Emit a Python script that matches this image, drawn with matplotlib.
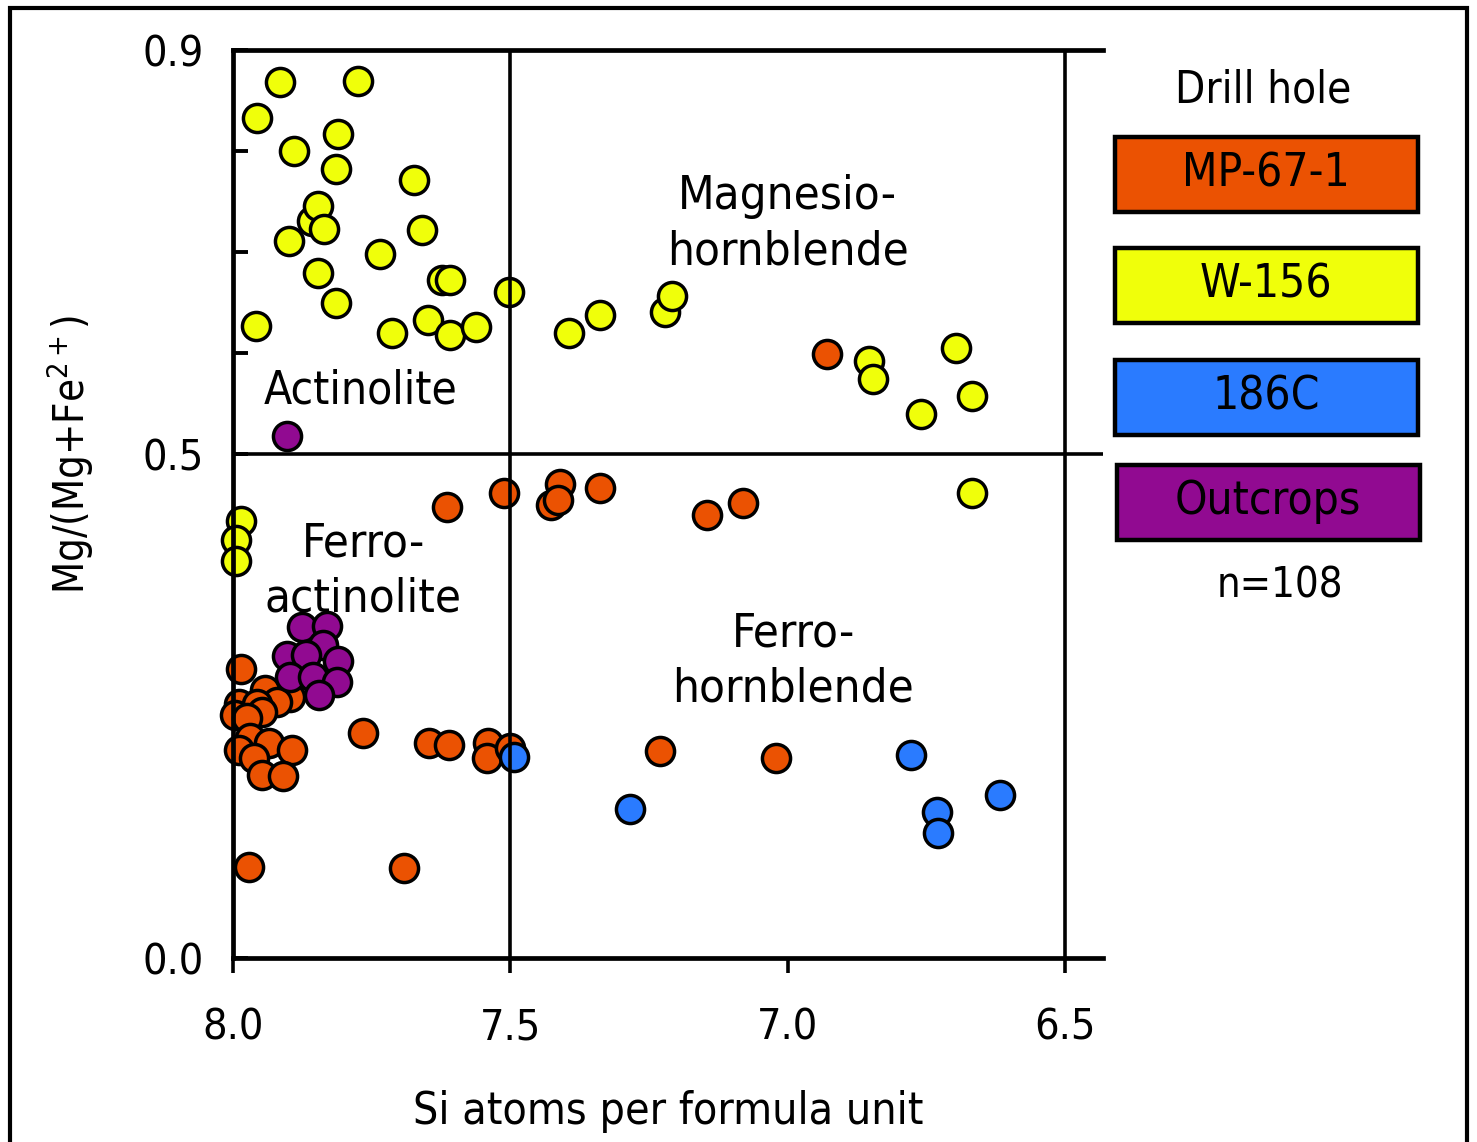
import matplotlib
matplotlib.use("Agg")
import matplotlib.pyplot as plt
from matplotlib.patches import Rectangle

plt.rcParams['font.family'] = ['Liberation Sans Narrow', 'DejaVu Sans']
plt.rcParams['font.stretch'] = 'condensed'

# -----------------------------
# Data
# -----------------------------
mp67_si = [6.930, 7.512, 7.410, 7.426, 7.415, 7.339, 7.146, 7.081, 7.614,
           7.986, 7.942, 7.897, 7.921, 7.990, 7.957, 7.948, 7.996, 7.975,
           7.969, 7.936, 7.990, 7.963, 7.894, 7.948, 7.910, 7.766, 7.646,
           7.610, 7.540, 7.543, 7.501, 7.972, 7.691, 7.231, 7.022]
mp67_mg = [0.599, 0.461, 0.470, 0.449, 0.454, 0.466, 0.439, 0.451, 0.447,
           0.286, 0.266, 0.259, 0.254, 0.252, 0.252, 0.244, 0.241, 0.238,
           0.218, 0.213, 0.206, 0.198, 0.206, 0.181, 0.180, 0.223, 0.213,
           0.211, 0.213, 0.198, 0.208, 0.090, 0.089, 0.205, 0.198]

w156_si = [7.915, 7.774, 7.957, 7.810, 7.891, 7.814, 7.673, 7.858, 7.846,
           7.836, 7.900, 7.660, 7.735, 7.846, 7.624, 7.609, 7.814, 7.502,
           7.959, 7.714, 7.648, 7.608, 7.562, 7.394, 7.339, 7.221, 7.209,
           6.853, 6.846, 6.696, 6.668, 6.759, 6.668, 7.986, 7.995, 7.995]
w156_mg = [0.868, 0.869, 0.833, 0.817, 0.800, 0.782, 0.771, 0.731, 0.745,
           0.723, 0.711, 0.722, 0.698, 0.679, 0.672, 0.672, 0.649, 0.660,
           0.626, 0.620, 0.632, 0.618, 0.625, 0.620, 0.637, 0.640, 0.656,
           0.592, 0.574, 0.605, 0.557, 0.539, 0.461, 0.433, 0.414, 0.394]

c186_si = [7.494, 7.285, 6.777, 6.731, 6.729, 6.617]
c186_mg = [0.199, 0.148, 0.201, 0.145, 0.124, 0.162]

outcrop_si = [7.903, 7.876, 7.830, 7.838, 7.903, 7.868, 7.810, 7.897,
              7.856, 7.813, 7.845]
outcrop_mg = [0.517, 0.328, 0.329, 0.310, 0.299, 0.300, 0.294, 0.279,
              0.279, 0.274, 0.261]

groups = ["MP-67-1", "W-156", "186C", "Outcrops"]
colors = ["#eb5202", "#f0ff0a", "#2a7bff", "#910a91"]

# -----------------------------
# Figure
# -----------------------------
fig = plt.figure(figsize=(14.77, 11.42), dpi=100)
ax = fig.add_axes([0.1578, 0.1611, 0.5890, 0.7951])

series = [(mp67_si, mp67_mg), (w156_si, w156_mg),
          (outcrop_si, outcrop_mg), (c186_si, c186_mg)]
series_colors = [colors[0], colors[1], colors[3], colors[2]]
for (xs, ys), c in zip(series, series_colors):
    ax.scatter(xs, ys, s=410, c=c, edgecolors="black", linewidths=2.5,
               zorder=3, clip_on=False)

# field boundaries
ax.axvline(7.5, color="black", lw=2.6, zorder=4)
ax.axvline(6.5, color="black", lw=2.6, zorder=4)
ax.axhline(0.5, color="black", lw=2.6, zorder=4)

ax.set_xlim(8.0, 6.4315)
ax.set_ylim(0.0, 0.9)

ax.spines["right"].set_visible(False)
for sp in ["left", "bottom", "top"]:
    ax.spines[sp].set_linewidth(3.4)
    ax.spines[sp].set_zorder(5)

ax.set_xticks([8.0, 7.5, 7.0, 6.5])
ax.set_xticklabels(["8.0", "7.5", "7.0", "6.5"])
ax.set_yticks([0.0, 0.5, 0.6, 0.7, 0.8, 0.9])
ax.set_yticklabels(["0.0", "0.5", "", "", "", "0.9"])
ax.tick_params(axis="x", direction="out", length=11, width=2.6,
               labelsize=31, pad=24)
ax.tick_params(axis="y", direction="in", length=11, width=2.8,
               labelsize=31, pad=21)

ax.set_xlabel("Si atoms per formula unit", fontsize=32, labelpad=30)
ax.set_ylabel("Mg/(Mg+Fe$^{2+}$)", fontsize=30)
ax.yaxis.set_label_coords(-0.158, 0.555)

# field names
ax.text(7.0, 0.727, "Magnesio-\nhornblende", fontsize=34, ha="center",
        va="center", linespacing=1.3, zorder=2)
ax.text(7.77, 0.562, "Actinolite", fontsize=33, ha="center",
        va="center", zorder=2)
ax.text(7.765, 0.383, "Ferro-\nactinolite", fontsize=34, ha="center",
        va="center", linespacing=1.3, zorder=2)
ax.text(6.99, 0.294, "Ferro-\nhornblende", fontsize=34, ha="center",
        va="center", linespacing=1.3, zorder=2)

# legend boxes
W, H = 1477.0, 1142.0
fig.text(1263 / W, 1 - 90 / H, "Drill hole", fontsize=31.5,
         ha="center", va="center")
box_tops = [137, 248, 360, 465]
box_lefts = [1115, 1115, 1115, 1117]
for name, c, top, left in zip(groups, colors, box_tops, box_lefts):
    rect = Rectangle((left / W, 1 - (top + 75) / H), 303 / W, 75 / H,
                     transform=fig.transFigure, facecolor=c,
                     edgecolor="black", linewidth=3.2)
    fig.add_artist(rect)
    fig.text((left + 151) / W, 1 - (top + 37) / H, name, fontsize=33,
             ha="center", va="center")
fig.text(1280 / W, 1 - 585 / H, "n=108", fontsize=30,
         ha="center", va="center")

# outer frame
frame = Rectangle((10 / W, -0.02), 1457 / W, 1 - 8 / H + 0.02,
                  transform=fig.transFigure, facecolor="none",
                  edgecolor="black", linewidth=3.0)
fig.add_artist(frame)

fig.savefig("out.png", dpi=100)
